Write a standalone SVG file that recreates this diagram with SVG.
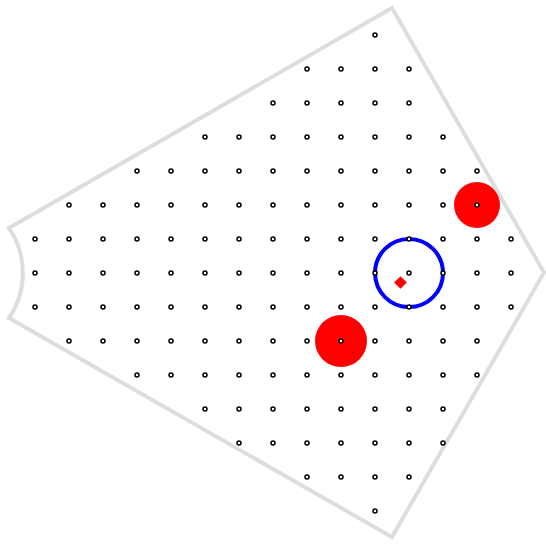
<svg xmlns="http://www.w3.org/2000/svg" width="546" height="545" viewBox="0 0 546 545">
<defs>
<style>
.outline{fill:none;stroke:#dddddd;stroke-width:4;stroke-linejoin:miter}
.d{fill:#fff;stroke:#000;stroke-width:1.5}
.red{fill:#ff0000}
.blue{fill:none;stroke:#0000ff;stroke-width:4}
</style>
<circle id="dot" cx="0" cy="0" r="2" class="d"/>
</defs>
<rect width="546" height="545" fill="#fff"/>
<g id="outline">
<path class="outline" d="M392 8 L544 272.5 L392 537 L9 318 A 80 80 0 0 0 9 228 Z"/>
</g>
<g id="grid">
<use href="#dot" x="375" y="35"/>
<use href="#dot" x="307" y="69"/><use href="#dot" x="341" y="69"/><use href="#dot" x="375" y="69"/><use href="#dot" x="409" y="69"/>
<use href="#dot" x="273" y="103"/><use href="#dot" x="307" y="103"/><use href="#dot" x="341" y="103"/><use href="#dot" x="375" y="103"/><use href="#dot" x="409" y="103"/>
<use href="#dot" x="205" y="137"/><use href="#dot" x="239" y="137"/><use href="#dot" x="273" y="137"/><use href="#dot" x="307" y="137"/><use href="#dot" x="341" y="137"/><use href="#dot" x="375" y="137"/><use href="#dot" x="409" y="137"/><use href="#dot" x="443" y="137"/>
<use href="#dot" x="137" y="171"/><use href="#dot" x="171" y="171"/><use href="#dot" x="205" y="171"/><use href="#dot" x="239" y="171"/><use href="#dot" x="273" y="171"/><use href="#dot" x="307" y="171"/><use href="#dot" x="341" y="171"/><use href="#dot" x="375" y="171"/><use href="#dot" x="409" y="171"/><use href="#dot" x="443" y="171"/><use href="#dot" x="477" y="171"/>
<use href="#dot" x="69" y="205"/><use href="#dot" x="103" y="205"/><use href="#dot" x="137" y="205"/><use href="#dot" x="171" y="205"/><use href="#dot" x="205" y="205"/><use href="#dot" x="239" y="205"/><use href="#dot" x="273" y="205"/><use href="#dot" x="307" y="205"/><use href="#dot" x="341" y="205"/><use href="#dot" x="375" y="205"/><use href="#dot" x="409" y="205"/><use href="#dot" x="443" y="205"/>
<use href="#dot" x="35" y="239"/><use href="#dot" x="69" y="239"/><use href="#dot" x="103" y="239"/><use href="#dot" x="137" y="239"/><use href="#dot" x="171" y="239"/><use href="#dot" x="205" y="239"/><use href="#dot" x="239" y="239"/><use href="#dot" x="273" y="239"/><use href="#dot" x="307" y="239"/><use href="#dot" x="341" y="239"/><use href="#dot" x="375" y="239"/><use href="#dot" x="443" y="239"/><use href="#dot" x="477" y="239"/><use href="#dot" x="511" y="239"/>
<use href="#dot" x="35" y="273"/><use href="#dot" x="69" y="273"/><use href="#dot" x="103" y="273"/><use href="#dot" x="137" y="273"/><use href="#dot" x="171" y="273"/><use href="#dot" x="205" y="273"/><use href="#dot" x="239" y="273"/><use href="#dot" x="273" y="273"/><use href="#dot" x="307" y="273"/><use href="#dot" x="341" y="273"/><use href="#dot" x="409" y="273"/><use href="#dot" x="477" y="273"/><use href="#dot" x="511" y="273"/>
<use href="#dot" x="35" y="307"/><use href="#dot" x="69" y="307"/><use href="#dot" x="103" y="307"/><use href="#dot" x="137" y="307"/><use href="#dot" x="171" y="307"/><use href="#dot" x="205" y="307"/><use href="#dot" x="239" y="307"/><use href="#dot" x="273" y="307"/><use href="#dot" x="307" y="307"/><use href="#dot" x="341" y="307"/><use href="#dot" x="375" y="307"/><use href="#dot" x="443" y="307"/><use href="#dot" x="477" y="307"/><use href="#dot" x="511" y="307"/>
<use href="#dot" x="69" y="341"/><use href="#dot" x="103" y="341"/><use href="#dot" x="137" y="341"/><use href="#dot" x="171" y="341"/><use href="#dot" x="205" y="341"/><use href="#dot" x="239" y="341"/><use href="#dot" x="273" y="341"/><use href="#dot" x="307" y="341"/><use href="#dot" x="375" y="341"/><use href="#dot" x="409" y="341"/><use href="#dot" x="443" y="341"/><use href="#dot" x="477" y="341"/>
<use href="#dot" x="137" y="375"/><use href="#dot" x="171" y="375"/><use href="#dot" x="205" y="375"/><use href="#dot" x="239" y="375"/><use href="#dot" x="273" y="375"/><use href="#dot" x="307" y="375"/><use href="#dot" x="341" y="375"/><use href="#dot" x="375" y="375"/><use href="#dot" x="409" y="375"/><use href="#dot" x="443" y="375"/><use href="#dot" x="477" y="375"/>
<use href="#dot" x="205" y="409"/><use href="#dot" x="239" y="409"/><use href="#dot" x="273" y="409"/><use href="#dot" x="307" y="409"/><use href="#dot" x="341" y="409"/><use href="#dot" x="375" y="409"/><use href="#dot" x="409" y="409"/><use href="#dot" x="443" y="409"/>
<use href="#dot" x="239" y="443"/><use href="#dot" x="273" y="443"/><use href="#dot" x="307" y="443"/><use href="#dot" x="341" y="443"/><use href="#dot" x="375" y="443"/><use href="#dot" x="409" y="443"/><use href="#dot" x="443" y="443"/>
<use href="#dot" x="307" y="477"/><use href="#dot" x="341" y="477"/><use href="#dot" x="375" y="477"/><use href="#dot" x="409" y="477"/>
<use href="#dot" x="375" y="511"/>
</g>
<g id="red-circles">
<circle class="red" cx="477" cy="205" r="23"/>
<circle class="red" cx="341" cy="341" r="26"/>
</g>
<g id="blue-circle">
<circle class="blue" cx="409" cy="273" r="34"/>
</g>
<g id="overlay-dots">
<use href="#dot" x="477" y="205"/>
<use href="#dot" x="341" y="341"/>
<use href="#dot" x="409" y="239"/>
<use href="#dot" x="375" y="273"/>
<use href="#dot" x="443" y="273"/>
<use href="#dot" x="409" y="307"/>
</g>
<g id="diamond">
<rect class="red" x="-4.5" y="-4.5" width="9" height="9" transform="translate(400.5 282.5) rotate(45)"/>
</g>
</svg>
